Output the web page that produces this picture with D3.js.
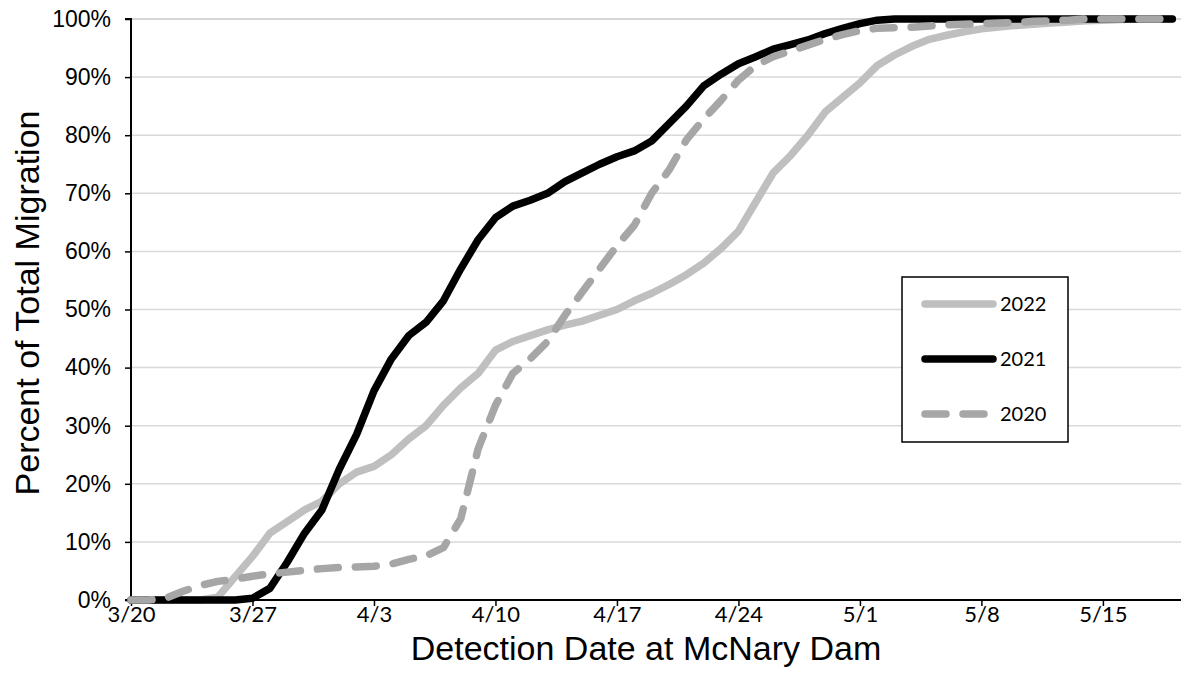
<!DOCTYPE html>
<html><head><meta charset="utf-8">
<script src="https://cdn.jsdelivr.net/npm/d3@7"></script>
<style>body{margin:0;background:#fff}svg{display:block}</style>
</head><body>
<svg id="c" width="1181" height="690"></svg>
<script>
const startDate = "2021-03-20";
const seriesNames = ["2022", "2021", "2020"];
const v2022 = [0,0,0,0,0,0.5,4,7.5,11.5,13.5,15.5,17,20,22,23,25,27.7,30,33.5,36.5,39,43,44.5,45.5,46.5,47.3,48,49,50,51.5,52.8,54.3,56,58,60.5,63.5,68.5,73.5,76.5,80,84,86.5,89,92,93.8,95.3,96.5,97.2,97.8,98.3,98.6,98.9,99.1,99.3,99.5,99.7,99.8,99.9,100,100,100];
const v2021 = [0,0,0,0,0,0,0,0.3,2,6.5,11.5,15.5,22.5,28.5,36,41.5,45.5,47.8,51.5,57,62,65.8,67.8,68.8,70,72,73.5,75,76.3,77.3,79,82,85,88.5,90.5,92.3,93.5,94.8,95.6,96.4,97.5,98.4,99.2,99.8,100,100,100,100,100,100,100,100,100,100,100,100,100,100,100,100,100];
const v2020 = [0,0,0.3,1.5,2.5,3.2,3.6,4.1,4.5,4.8,5.1,5.4,5.6,5.7,5.8,6.2,7,7.6,9,14,26,33.5,39,41.5,44.5,49,53,57,61,64.5,70,74,79.2,82.8,86,89.5,92,93.5,94.5,95.5,96.5,97.3,98,98.4,98.5,98.6,98.8,99,99.1,99.2,99.3,99.4,99.6,99.7,99.8,100,100,100,100,100,100];
const xTickLabels = ["3/20","3/27","4/3","4/10","4/17","4/24","5/1","5/8","5/15"];
const yTickValues = [0,10,20,30,40,50,60,70,80,90,100];

const svg = d3.select("#c");
const L = 131, T = 19, R = 1181, B = 600;
const day = 86400000;
const t0 = new Date(startDate + "T00:00:00Z");
const dateOf = i => new Date(t0.getTime() + i * day);
const x = d3.scaleUtc().domain([t0, new Date(t0.getTime() + 60.5 * day)]).range([L, R]);
const y = d3.scaleLinear().domain([0, 100]).range([B, T]);

// gridlines
svg.append("g").selectAll("line").data(yTickValues.filter(v => v > 0)).join("line")
  .attr("x1", L).attr("x2", R).attr("y1", d => y(d)).attr("y2", d => y(d))
  .attr("stroke", d => d === 100 ? "#c8c8c8" : "#d9d9d9").attr("stroke-width", 1.5);

// y axis
const yAxis = d3.axisLeft(y).tickValues(yTickValues).tickFormat(d => d + "%").tickSize(6).tickPadding(14);
const gy = svg.append("g").attr("transform", `translate(${L},0)`).call(yAxis);
gy.select(".domain").attr("stroke", "#000").attr("stroke-width", 2).attr("d", `M-6,${T}H0V${B}H-6`);
gy.selectAll(".tick line").attr("stroke", "#000").attr("stroke-width", 1.5);
gy.selectAll(".tick text").attr("font-family", "Liberation Sans, Arial, sans-serif").attr("font-size", 23).attr("fill", "#000");

// x axis
const xTicks = xTickLabels.map((lab, i) => dateOf(i * 7));
const xAxis = d3.axisBottom(x).tickValues(xTicks).tickFormat((d, i) => xTickLabels[i]).tickSize(6).tickPadding(0);
const gx = svg.append("g").attr("transform", `translate(0,${B})`).call(xAxis);
gx.select(".domain").attr("stroke", "#000").attr("stroke-width", 2).attr("d", `M${L},0H${R}`);
gx.selectAll(".tick line").attr("stroke", "#000").attr("stroke-width", 1.5);
gx.selectAll(".tick text").attr("font-family", "Lato, Carlito, sans-serif").attr("font-size", 22).attr("fill", "#000")
  .attr("y", 6);

// lines
const line = d3.line().x((d, i) => x(dateOf(i))).y(d => y(d));
const styles = {
  "2022": {stroke: "#bfbfbf", dash: null},
  "2021": {stroke: "#000000", dash: null},
  "2020": {stroke: "#a6a6a6", dash: "21,17"}
};
const data = {"2022": v2022, "2021": v2021, "2020": v2020};
seriesNames.forEach(n => {
  svg.append("path").datum(data[n]).attr("d", line)
    .attr("fill", "none").attr("stroke", styles[n].stroke).attr("stroke-width", 7.5)
    .attr("stroke-linejoin", "round").attr("stroke-linecap", "round")
    .attr("stroke-dasharray", styles[n].dash);
});

// legend
const lg = svg.append("g");
lg.append("rect").attr("x", 902).attr("y", 277).attr("width", 166).attr("height", 165)
  .attr("fill", "#fff").attr("stroke", "#000").attr("stroke-width", 1.5);
seriesNames.forEach((n, i) => {
  const yy = 304 + i * 55;
  lg.append("line").attr("x1", 925).attr("x2", 993).attr("y1", yy).attr("y2", yy)
    .attr("stroke", styles[n].stroke).attr("stroke-width", 7.5).attr("stroke-linecap", "round")
    .attr("stroke-dasharray", styles[n].dash);
  lg.append("text").attr("x", 1000).attr("y", yy).attr("dy", "0.36em").text(n)
    .attr("font-family", "Lato, Carlito, sans-serif").attr("font-size", 20).attr("fill", "#000");
});

// titles
svg.append("text").attr("x", 646).attr("y", 648).attr("dy", "0.35em").attr("text-anchor", "middle")
  .attr("font-family", "Liberation Sans, Arial, sans-serif").attr("font-size", 34).text("Detection Date at McNary Dam");
svg.append("text").attr("transform", "translate(27,303) rotate(-90)").attr("dy", "0.35em").attr("text-anchor", "middle")
  .attr("font-family", "Liberation Sans, Arial, sans-serif").attr("font-size", 34).text("Percent of Total Migration");
</script>
</body></html>
